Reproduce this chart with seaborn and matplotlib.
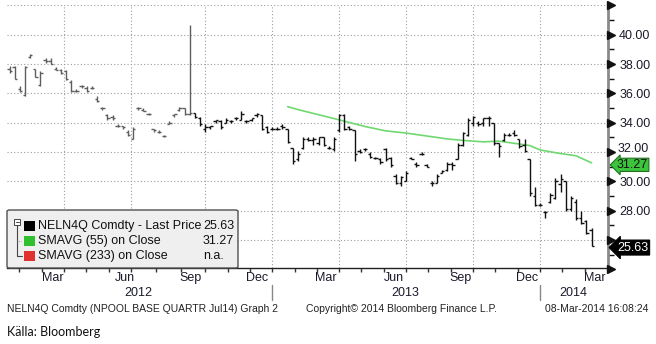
import numpy as np
import pandas as pd
import matplotlib
matplotlib.use("Agg")
import matplotlib.pyplot as plt
import matplotlib.transforms as mtransforms
from matplotlib.patches import FancyBboxPatch, Rectangle
from matplotlib.lines import Line2D
import seaborn as sns

# ---------------- data (weekly OHLC, NELN4Q) ----------------
opens = [37.7, 37.8, 36.3, 35.9, 38.5, 37.7, 36.6, 38.3, 38.2, 37.7,
         37.6, 37.5, 36.8, 36.2, 36.5, 36.4, 36.4, 35.6, 35.0, 34.5,
         34.4, 33.8, 33.8, 33.4, 32.9, 35.0, 34.9, 34.6, 33.6, 33.4,
         33.1, 33.9, 34.5, 34.9, 35.0, 34.6, 34.7, 34.3, 33.6, 33.7,
         34.1, 34.1, 34.0, 34.1, 34.3, 34.2, 34.1, 34.2, 34.5, 34.5,
         33.7, 33.6, 33.6, 33.8, 33.6, 32.3, 31.5, 32.3, 32.9, 32.8,
         32.6, 33.0, 32.3, 32.2, 33.5, 34.5, 33.7, 33.5, 32.1, 32.2,
         31.9, 31.6, 31.5, 32.2, 31.6, 30.4, 29.9, 30.0, 31.6, 31.2,
         31.9, 31.1, 29.9, 29.9, 30.6, 30.8, 31.2, 31.5, 32.5, 33.2,
         34.0, 34.0, 34.0, 34.3, 34.0, 32.6, 32.8, 33.2, 33.3, 32.9,
         32.5, 31.5, 29.0, 28.4, 27.9, 28.6, 28.9, 29.8, 30.0, 28.1,
         28.6, 27.5, 27.3, 26.7]
highs = [37.9, 37.9, 36.5, 37.9, 38.7, 37.7, 37.5, 38.4, 38.4, 37.8,
         37.7, 37.6, 36.9, 36.3, 36.6, 36.5, 36.5, 35.8, 35.1, 34.6,
         34.5, 33.9, 33.8, 33.5, 33.7, 35.1, 35.0, 34.7, 33.6, 33.5,
         33.2, 34.1, 34.6, 35.1, 35.0, 40.7, 34.7, 34.4, 33.9, 33.8,
         34.2, 34.2, 34.3, 34.2, 34.4, 34.8, 34.2, 34.3, 34.7, 34.5,
         33.8, 33.7, 33.7, 33.9, 33.6, 32.3, 32.1, 33.0, 33.0, 33.0,
         33.05, 33.0, 32.4, 33.0, 34.6, 34.6, 33.8, 33.5, 32.2, 32.3,
         32.0, 31.7, 31.6, 32.3, 31.7, 30.5, 30.4, 30.7, 31.65, 31.3,
         32.0, 31.2, 30.0, 30.5, 30.8, 31.3, 31.3, 32.6, 33.4, 34.3,
         34.45, 34.1, 34.35, 34.45, 34.0, 32.6, 33.3, 33.3, 33.5, 32.9,
         32.9, 31.5, 29.6, 28.5, 28.0, 29.2, 30.25, 30.5, 30.0, 29.0,
         28.8, 28.0, 27.4, 26.8]
lows = [37.4, 37.0, 36.1, 35.8, 38.4, 37.1, 36.5, 38.1, 38.0, 37.6,
        37.3, 36.9, 36.1, 36.1, 36.4, 36.1, 36.3, 35.4, 34.9, 34.2,
        34.2, 33.7, 33.6, 33.1, 32.9, 34.9, 34.8, 34.5, 33.4, 33.3,
        33.0, 33.9, 34.4, 34.8, 34.5, 34.5, 34.3, 33.8, 33.4, 33.6,
        34.0, 33.6, 34.0, 34.0, 34.2, 34.2, 34.0, 34.1, 34.4, 33.5,
        33.3, 33.5, 33.5, 33.6, 32.6, 31.2, 31.4, 32.2, 32.75, 32.5,
        32.5, 32.4, 32.2, 32.1, 33.4, 33.5, 33.5, 31.4, 31.95, 32.1,
        31.6, 31.5, 31.2, 31.4, 31.0, 29.8, 29.7, 30.0, 31.5, 31.0,
        31.8, 31.0, 29.7, 29.9, 30.6, 30.7, 30.8, 31.5, 32.4, 33.1,
        33.8, 33.8, 33.8, 33.8, 32.5, 31.7, 32.75, 33.1, 33.1, 32.3,
        32.0, 29.0, 28.3, 28.3, 27.5, 28.5, 28.8, 29.3, 28.0, 28.0,
        27.4, 27.1, 26.4, 25.6]
closes = [37.5, 37.0, 36.2, 37.8, 38.6, 37.1, 37.4, 38.2, 38.0, 37.6,
          37.4, 37.0, 36.2, 36.2, 36.5, 36.2, 36.4, 35.5, 35.0, 34.3,
          34.3, 33.8, 33.7, 33.2, 33.6, 35.0, 34.8, 34.6, 33.5, 33.4,
          33.1, 34.0, 34.6, 35.0, 34.6, 34.7, 34.4, 33.9, 33.7, 33.8,
          34.2, 33.7, 34.2, 34.1, 34.3, 34.6, 34.1, 34.3, 34.6, 33.6,
          33.4, 33.6, 33.6, 33.7, 32.7, 31.4, 31.9, 32.9, 32.8, 32.9,
          33.0, 32.5, 32.3, 32.9, 34.5, 33.6, 33.6, 31.9, 32.0, 32.2,
          31.7, 31.6, 31.3, 31.5, 31.1, 29.9, 30.3, 30.6, 31.5, 31.1,
          31.9, 31.0, 29.9, 30.4, 30.7, 31.2, 31.1, 32.5, 33.3, 34.2,
          34.4, 33.9, 34.3, 34.3, 32.6, 32.4, 33.2, 33.2, 33.2, 32.4,
          32.1, 29.2, 28.4, 28.4, 27.9, 29.1, 30.0, 30.2, 28.1, 28.9,
          27.5, 27.2, 26.5, 25.63]

# SMAVG (55) on Close, read at selected weeks
sma_weeks = [54, 56, 60, 64, 69, 73, 77, 81, 85, 88, 92, 95, 98, 101, 103, 107, 110, 113]
sma_values = [35.1, 34.9, 34.55, 34.2, 33.75, 33.45, 33.3, 33.1, 32.9, 32.8,
              32.7, 32.75, 32.6, 32.45, 32.15, 31.9, 31.75, 31.27]

grid_weeks = [10.6, 23.6, 38.0, 51.0, 64.0, 77.0, 90.0, 103.0]
month_labels = ["Mar", "Jun", "Sep", "Dec", "Mar", "Jun", "Sep", "Dec", "Mar"]
month_pos = [8.5, 22.4, 35.2, 48.1, 61.5, 74.7, 87.6, 100.5, 113.7]
year_labels = ["2012", "2013", "2014"]
year_pos = [24.95, 76.8, 109.4]
year_breaks = [51.0, 103.0]
y_major = [24, 26, 28, 30, 32, 34, 36, 38, 40, 42]
y_labelled = [28, 30, 34, 36, 38, 40]
y_label_near_tag = 32
y_minor = [25, 27, 29, 31, 33, 35, 37, 39, 41]

legend_names = ["NELN4Q Comdty - Last Price", "SMAVG (55) on Close", "SMAVG (233) on Close"]
legend_values = ["25.63", "31.27", "n.a."]
legend_colors = ["#000000", "#2fbf2f", "#e03030"]
last_price = 25.63
last_sma = 31.27

# ---------------- figure ----------------
sns.set_theme(style="white")
plt.rcParams['font.family'] = ['Liberation Sans', 'DejaVu Sans']

W, H = 656, 344
fig = plt.figure(figsize=(W / 100, H / 100), dpi=100)
fig.patch.set_facecolor("white")
ax = fig.add_axes([7 / W, 1 - 268 / H, 601 / W, 263 / H])
ax.set_facecolor("white")

df = pd.DataFrame({"week": np.arange(len(opens)), "open": opens, "high": highs,
                   "low": lows, "close": closes})
colors = ["#5e5e5e" if w <= 35 else "#111111" for w in df["week"]]

ax.vlines(df["week"], df["low"], df["high"], colors=colors, lw=1.0, zorder=3)
ax.hlines(df["open"], df["week"] - 0.45, df["week"], colors=colors, lw=1.0, zorder=3)
ax.hlines(df["close"], df["week"], df["week"] + 0.45, colors=colors, lw=1.0, zorder=3)

sma_df = pd.DataFrame({"week": sma_weeks, "value": sma_values})
sns.lineplot(data=sma_df, x="week", y="value", ax=ax, color="#70d870", lw=1.2, zorder=2)

ax.set_xlim(-0.49, 116.2)
ax.set_ylim(24.1, 42.03)
ax.set_xlabel("")
ax.set_ylabel("")

# grid
for v in y_major[1:]:
    ax.axhline(v, color="#9c9c9c", ls=(0, (1, 2)), lw=0.8, zorder=0)
for g in grid_weeks:
    ax.axvline(g, color="#9c9c9c", ls=(0, (1, 2)), lw=0.8, zorder=0)

# spines
for s in ["top", "left"]:
    ax.spines[s].set_visible(False)
ax.spines["right"].set_color("#8a8a8a")
ax.spines["right"].set_linewidth(2.0)
ax.spines["bottom"].set_color("#222222")
ax.spines["bottom"].set_linewidth(1.0)

# y axis on the right
ax.yaxis.tick_right()
ax.set_yticks(y_labelled)
ax.set_yticklabels([f"{v:.2f}" for v in y_labelled])
ax.set_yticks(y_minor, minor=True)
ax.tick_params(axis="y", which="major", length=0, pad=8, labelsize=9, labelcolor="#1a1a2a")
ax.tick_params(axis="y", which="minor", length=4, width=1.0, color="#111111", direction="out")

trans = mtransforms.blended_transform_factory(ax.transAxes, ax.transData)
lab_trans = mtransforms.offset_copy(trans, fig=fig, x=10, y=3, units="dots")
ax.text(1.0, y_label_near_tag, f"{y_label_near_tag:.2f}", transform=lab_trans, ha="left",
        va="center", fontsize=9, color="#1a1a2a", clip_on=False, zorder=5)

tri_trans = mtransforms.offset_copy(trans, fig=fig, x=3, y=0, units="dots")
ax.plot([1.0] * len(y_major), y_major, ls="none", marker=">", ms=5.5, color="#111111",
        transform=tri_trans, clip_on=False, zorder=6)

# x axis ticks
minor_x = []
ext = [grid_weeks[0] - 13.0] + grid_weeks + [grid_weeks[-1] + 13.0]
for a, b in zip(ext[:-1], ext[1:]):
    minor_x += [a + (b - a) / 3, a + 2 * (b - a) / 3]
minor_x = [m for m in minor_x if -0.4 < m < 116]
ax.set_xticks(grid_weeks)
ax.set_xticks(minor_x, minor=True)
ax.tick_params(axis="x", which="both", bottom=True, labelbottom=False, direction="out",
               length=3, width=1.0, color="#333333")

xtrans = mtransforms.blended_transform_factory(ax.transData, ax.transAxes)
for lab, p in zip(month_labels, month_pos):
    ax.text(p, -0.038, lab, transform=xtrans, ha="center", va="center", fontsize=9,
            color="#1a1a2a")
for lab, p in zip(year_labels, year_pos):
    ax.text(p, -0.095, lab, transform=xtrans, ha="center", va="center", fontsize=9,
            color="#1a1a2a")
for b in year_breaks:
    ax.plot([b, b], [-0.065, -0.122], transform=xtrans, color="#888888", lw=1.0,
            clip_on=False)

# value tags
tag_trans = mtransforms.offset_copy(trans, fig=fig, x=9, y=-2, units="dots")
ax.text(1.0, last_sma, f"{last_sma:.2f}", transform=tag_trans, ha="left", va="center",
        fontsize=9, color="#111111", clip_on=False, zorder=10,
        bbox=dict(boxstyle="larrow,pad=0.05", fc="#3cc43c", ec="#1f6f1f", lw=0.8))
ax.text(1.0, last_price, f"{last_price:.2f}", transform=tag_trans, ha="left", va="center",
        fontsize=9, color="white", clip_on=False, zorder=10,
        bbox=dict(boxstyle="larrow,pad=0.12", fc="black", ec="black", lw=0.8))

# ---------------- legend box ----------------
def fx(px):
    return px / W

def fy(py):
    return 1 - py / H

box = FancyBboxPatch((fx(7), fy(268)), fx(238) - fx(7), fy(210) - fy(268),
                     boxstyle="round,pad=0,rounding_size=0.004", transform=fig.transFigure,
                     fc="#efefef", ec="#505050", lw=1.0, zorder=20)
fig.add_artist(box)
# tree icon
fig.add_artist(Rectangle((fx(14), fy(225)), fx(6), fy(219) - fy(225), transform=fig.transFigure,
                         fc="white", ec="#444444", lw=0.7, zorder=21))
fig.add_artist(Line2D([fx(15.5), fx(18.5)], [fy(222), fy(222)], transform=fig.transFigure,
                      color="#444444", lw=0.7, zorder=22))
fig.add_artist(Line2D([fx(17), fx(17), fx(22)], [fy(225), fy(256), fy(256)],
                      transform=fig.transFigure, color="#444444", lw=0.8, zorder=21))
fig.add_artist(Line2D([fx(17), fx(21)], [fy(241), fy(241)], transform=fig.transFigure,
                      color="#888888", lw=0.6, ls=(0, (1, 1)), zorder=21))
rows_y = [225.7, 240.7, 255.7]
for name, val, col, ry in zip(legend_names, legend_values, legend_colors, rows_y):
    fig.add_artist(Rectangle((fx(24), fy(ry + 5)), fx(11), fy(ry - 5) - fy(ry + 5),
                             transform=fig.transFigure, fc=col, ec=col, lw=0, zorder=21))
    fig.text(fx(38.5), fy(ry), name, ha="left", va="center", fontsize=9, color="#111111",
             zorder=22)
    fig.text(fx(203), fy(ry), val, ha="left", va="center", fontsize=9, color="#111111",
             zorder=22)

# ---------------- footer ----------------
fig.text(fx(7), fy(309), "NELN4Q Comdty (NPOOL BASE QUARTR Jul14) Graph 2", ha="left",
         va="center", fontsize=7.5, color="#222222")
fig.text(fx(306), fy(309), "Copyright\u00a9 2014 Bloomberg Finance L.P.", ha="left",
         va="center", fontsize=7.5, color="#222222")
fig.text(fx(648), fy(309), "08-Mar-2014 16:08:24", ha="right", va="center", fontsize=7.5,
         color="#222222")
fig.text(fx(7), fy(332), "Källa: Bloomberg", ha="left", va="center", fontsize=9,
         color="#111111", family=["Lato", "DejaVu Sans"])

fig.savefig("out.png", dpi=100, facecolor="white")
